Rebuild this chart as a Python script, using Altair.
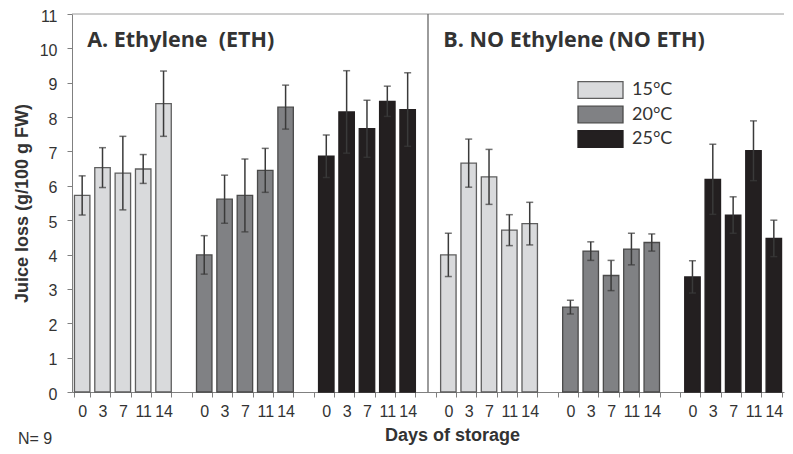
import altair as alt
import pandas as pd

days = ["0", "3", "7", "11", "14"]
temps = ["15°C", "20°C", "25°C"]
fills = ["#d9dadc", "#808184", "#231f20"]
strokes = ["#5e5e5e", "#4a4a4a", "#231f20"]
panel_titles = ["A. Ethylene\u00a0 (ETH)", "B. NO Ethylene (NO ETH)"]
y_ticks = list(range(12))

# Panel A: ethylene — mean juice loss per temperature, by day
eth_15 = [5.72, 6.53, 6.37, 6.49, 8.39]
eth_20 = [3.99, 5.61, 5.72, 6.45, 8.29]
eth_25 = [6.86, 8.15, 7.66, 8.46, 8.22]
eth_15_sd = [0.57, 0.58, 1.07, 0.42, 0.95]
eth_20_sd = [0.56, 0.70, 1.06, 0.64, 0.64]
eth_25_sd = [0.62, 1.20, 0.83, 0.44, 1.07]

# Panel B: no ethylene
noeth_15 = [3.99, 6.66, 6.26, 4.71, 4.90]
noeth_20 = [2.47, 4.10, 3.39, 4.16, 4.35]
noeth_25 = [3.35, 6.19, 5.15, 7.02, 4.47]
noeth_15_sd = [0.63, 0.70, 0.80, 0.45, 0.62]
noeth_20_sd = [0.20, 0.27, 0.44, 0.46, 0.25]
noeth_25_sd = [0.47, 1.02, 0.53, 0.87, 0.53]

panels = [
    ([eth_15, eth_20, eth_25], [eth_15_sd, eth_20_sd, eth_25_sd]),
    ([noeth_15, noeth_20, noeth_25], [noeth_15_sd, noeth_20_sd, noeth_25_sd]),
]

rows = []
for p, (vals, sds) in enumerate(panels):
    for t, temp in enumerate(temps):
        for d, day in enumerate(days):
            v = vals[t][d]
            s = sds[t][d]
            rows.append(dict(slot=p * 18 + t * 6 + d, temp=temp, day=day,
                             v=v, lo=v - s, hi=v + s))
df = pd.DataFrame(rows)

slots = list(range(35))
label_expr = "[" + ",".join("'%s'" % d for d in days + [""]) + "][datum.value % 6]"

x_scale = alt.Scale(domain=slots, paddingInner=0.24, paddingOuter=0.12)
y_scale = alt.Scale(domain=[0, 11], nice=False)

AX = "#808080"
TXT = "#333333"

x_axis = alt.Axis(
    title="Days of storage", labelExpr=label_expr, labelAngle=0, labelOverlap=False,
    tickBand="extent", tickSize=5, tickColor=AX, domainColor=AX,
    labelFont="Liberation Sans", labelFontSize=16, labelColor=TXT, labelPadding=6,
    titleFont="Liberation Sans", titleFontSize=18, titleFontWeight="bold",
    titleColor=TXT, titlePadding=7, titleX=380, grid=False,
)
y_axis = alt.Axis(
    title="Juice loss (g/100 g FW)", values=y_ticks, labelOverlap=False, tickSize=5,
    tickColor=AX, domainColor=AX, labelFont="Liberation Sans", labelFontSize=16,
    labelColor=TXT, labelPadding=10, labelOffset=2, titleFont="Liberation Sans",
    titleFontSize=18, titleFontWeight="bold", titleColor=TXT, titlePadding=8,
    grid=False,
)


def X(field):
    return alt.X(field, scale=x_scale, axis=x_axis)


def Y(field):
    return alt.Y(field, scale=y_scale, axis=y_axis)


leg = alt.Legend(
    title=None, orient="none", legendX=505, legendY=66,
    symbolType="M-1,-0.37H1V0.37H-1Z", symbolSize=2025, symbolStrokeWidth=1.3,
    clipHeight=20, rowPadding=4.5, labelFont="Lato", labelFontSize=18,
    labelColor=TXT, labelOffset=8, padding=0,
)

base = alt.Chart(df)

bars = base.mark_bar(strokeWidth=1.3).encode(
    x=X("slot:O"),
    y=Y("v:Q"),
    fill=alt.Fill("temp:N", scale=alt.Scale(domain=temps, range=fills), legend=leg),
    stroke=alt.Stroke("temp:N", scale=alt.Scale(domain=temps, range=strokes), legend=leg),
)

err = base.mark_rule(color="#3a3a3a", strokeWidth=1.5).encode(
    x=X("slot:O"), y=Y("lo:Q"), y2="hi:Q"
)
caps = base.transform_fold(["lo", "hi"]).mark_tick(
    color="#3a3a3a", size=7, thickness=1.5
).encode(x=X("slot:O"), y=Y("value:Q"))

top_line = alt.Chart(pd.DataFrame({"y": [11]})).mark_rule(
    color="#9a9a9a", strokeWidth=1
).encode(y=Y("y:Q"))

divider = alt.Chart(pd.DataFrame({"slot": [17], "y0": [0], "y1": [11]})).mark_rule(
    color="#666666", strokeWidth=1.3
).encode(x=X("slot:O"), y=Y("y0:Q"), y2="y1:Q")

title_a = alt.Chart(pd.DataFrame({"slot": [0], "y": [10.2], "t": [panel_titles[0]]})).mark_text(
    align="left", baseline="middle", dx=5, font="Open Sans", fontSize=21.5,
    fontWeight="bold", color=TXT
).encode(x=X("slot:O"), y=Y("y:Q"), text="t:N")

title_b = alt.Chart(pd.DataFrame({"slot": [18], "y": [10.2], "t": [panel_titles[1]]})).mark_text(
    align="left", baseline="middle", dx=-5, font="Open Sans", fontSize=21.5,
    fontWeight="bold", color=TXT
).encode(x=X("slot:O"), y=Y("y:Q"), text="t:N")

n_note = alt.Chart(pd.DataFrame({"t": ["N= 9"]})).mark_text(
    align="left", baseline="alphabetic", font="Liberation Sans", fontSize=16, color=TXT
).encode(x=alt.value(-54), y=alt.value(430), text="t:N")

chart = alt.layer(bars, err, caps, top_line, divider, title_a, title_b, n_note).properties(
    width=712, height=378,
    autosize=alt.AutoSizeParams(type="none"),
    padding={"left": 64, "top": 6, "right": 1, "bottom": 54},
).configure_view(stroke=None)

chart.save("out.html", embed_options={"renderer": "svg", "actions": False})
